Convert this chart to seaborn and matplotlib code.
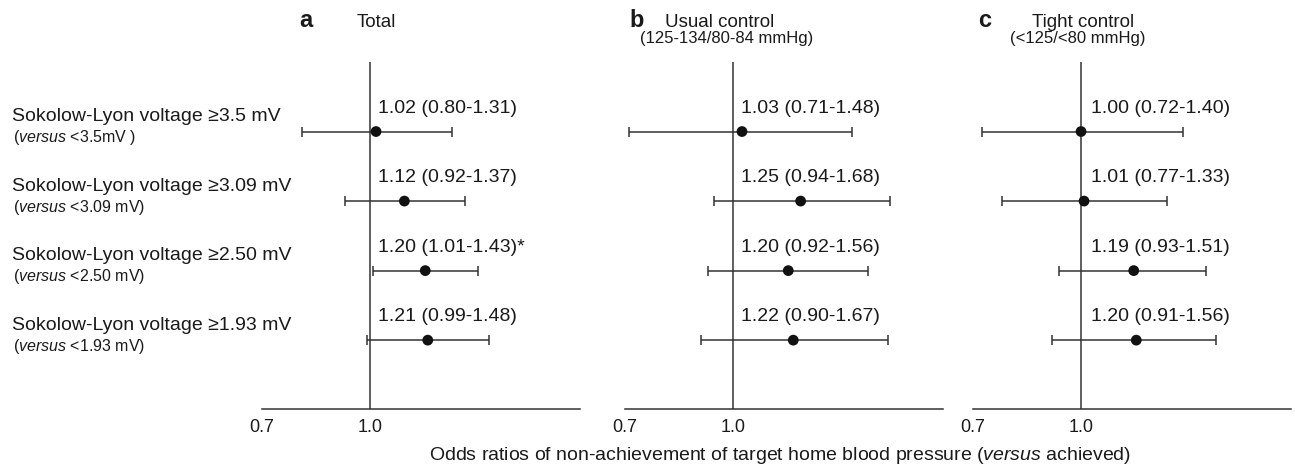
import numpy as np
import pandas as pd
import matplotlib
matplotlib.use("Agg")
import matplotlib.pyplot as plt
import matplotlib.transforms as mtransforms
from matplotlib.ticker import NullLocator
import seaborn as sns


# DATA

row_labels = [
    "Sokolow-Lyon voltage ≥3.5 mV",
    "Sokolow-Lyon voltage ≥3.09 mV",
    "Sokolow-Lyon voltage ≥2.50 mV",
    "Sokolow-Lyon voltage ≥1.93 mV",
]
row_sublabels = [
    r"($\it{versus}$ <3.5mV )",
    r"($\it{versus}$ <3.09 mV)",
    r"($\it{versus}$ <2.50 mV)",
    r"($\it{versus}$ <1.93 mV)",
]

panel_letters = ["a", "b", "c"]
panel_titles = ["Total", "Usual control", "Tight control"]
panel_subtitles = ["", "(125-134/80-84 mmHg)", "(<125/<80 mmHg)"]

# odds ratios with 95% CI, one list per panel
or_total = [1.02, 1.12, 1.20, 1.21]
lo_total = [0.80, 0.92, 1.01, 0.99]
hi_total = [1.31, 1.37, 1.43, 1.48]
sig_total = [False, False, True, False]

or_usual = [1.03, 1.25, 1.20, 1.22]
lo_usual = [0.71, 0.94, 0.92, 0.90]
hi_usual = [1.48, 1.68, 1.56, 1.67]
sig_usual = [False, False, False, False]

or_tight = [1.00, 1.01, 1.19, 1.20]
lo_tight = [0.72, 0.77, 0.93, 0.91]
hi_tight = [1.40, 1.33, 1.51, 1.56]
sig_tight = [False, False, False, False]

x_ticks = [0.7, 1.0]
x_ticklabels = ["0.7", "1.0"]
x_label = r"Odds ratios of non-achievement of target home blood pressure ($\it{versus}$ achieved)"


# STYLE

sns.set_theme(style="white")
plt.rcParams["font.family"] = ["Liberation Sans", "DejaVu Sans"]
plt.rcParams["mathtext.fontset"] = "custom"
plt.rcParams["mathtext.rm"] = "Liberation Sans"
plt.rcParams["mathtext.it"] = "Liberation Sans:italic"
plt.rcParams["text.color"] = "#1a1a1a"

W, H = 1295, 465
fig = plt.figure(figsize=(W / 100, H / 100), dpi=100)

panel_left_px = [262, 625, 973]
ax_w = 318 / W
ax_bottom = 1 - 409 / H
ax_h = (409 - 62) / H

# title positions (pixel centres) for letter, title, subtitle
letter_px = [306, 637, 985]
title_px = [376, 720, 1083]
subtitle_px = [376, 727, 1078]
text_x = [1.025, 1.025, 1.035]

panels = [
    (or_total, lo_total, hi_total, sig_total),
    (or_usual, lo_usual, hi_usual, sig_usual),
    (or_tight, lo_tight, hi_tight, sig_tight),
]

line_col = "#333333"

axes = []
for i, (ors, lo, hi, sig) in enumerate(panels):
    ax = fig.add_axes([panel_left_px[i] / W, ax_bottom, ax_w, ax_h])
    axes.append(ax)

    df = pd.DataFrame({"row": np.arange(len(ors)), "or": ors, "lo": lo, "hi": hi})

    ax.axvline(1.0, color=line_col, lw=1.1, zorder=1)
    ax.errorbar(df["or"], df["row"],
                xerr=[df["or"] - df["lo"], df["hi"] - df["or"]],
                fmt="none", ecolor=line_col, elinewidth=1.1,
                capsize=3.5, capthick=1.1, zorder=2)
    sns.scatterplot(data=df, x="or", y="row", ax=ax, color="#111111",
                    s=60, edgecolor="none", zorder=5, legend=False)

    # OR (CI) labels above each row
    for r in range(len(ors)):
        txt = f"{ors[r]:.2f} ({lo[r]:.2f}-{hi[r]:.2f})" + ("*" if sig[r] else "")
        ax.text(text_x[i], r - 0.27, txt, fontsize=14, ha="left", va="baseline")

    ax.set_xscale("log")
    ax.set_xlim(0.7, 2.0)
    ax.set_ylim(3.99, -1.0)
    ax.set_xticks(x_ticks)
    ax.set_xticklabels(x_ticklabels)
    ax.xaxis.set_minor_locator(NullLocator())
    ax.set_yticks([])
    ax.set_xlabel("")
    ax.set_ylabel("")
    ax.tick_params(axis="x", length=0, pad=7, labelsize=13, colors="#1a1a1a")
    sns.despine(ax=ax, left=True)
    ax.spines["bottom"].set_color(line_col)
    ax.spines["bottom"].set_linewidth(1.1)
    ax.patch.set_alpha(0)

    # panel headings
    fig.text(letter_px[i] / W, 1 - 26.7 / H, panel_letters[i], fontsize=17,
             fontweight="bold", ha="center", va="baseline")
    fig.text(title_px[i] / W, 1 - 26.7 / H, panel_titles[i], fontsize=13.5,
             ha="center", va="baseline")
    if panel_subtitles[i]:
        fig.text(subtitle_px[i] / W, 1 - 43.5 / H, panel_subtitles[i],
                 fontsize=12, ha="center", va="baseline")

# row labels on the left
trans = mtransforms.blended_transform_factory(axes[0].transAxes, axes[0].transData)
lab_x = (12 - panel_left_px[0]) / 318
for r in range(len(row_labels)):
    axes[0].text(lab_x, r - 0.15, row_labels[r], transform=trans,
                 fontsize=14, ha="left", va="baseline")
    axes[0].text(lab_x + 0.003, r + 0.15, row_sublabels[r], transform=trans,
                 fontsize=11.5, ha="left", va="baseline")

fig.text(780 / W, 5 / H, x_label, fontsize=14, ha="center", va="baseline")

fig.savefig("out.png", dpi=100)
